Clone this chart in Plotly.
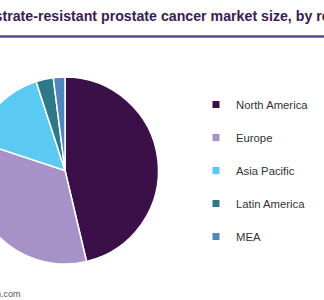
import plotly.graph_objects as go

regions = ["North America", "Europe", "Asia Pacific", "Latin America", "MEA"]
shares = [46.3, 33.8, 14.9, 3.0, 2.0]
colors = ["#3b1048", "#a692c6", "#5bcaf2", "#2f7888", "#4e87c0"]
title_text = "Castrate-resistant prostate cancer market size, by region"
source_text = "Source: www.grandviewresearch.com"

SHIFT = 40
W = 324 + SHIFT
H = 300

fig = go.Figure()
fig.add_trace(go.Pie(
    labels=regions, values=shares, sort=False, direction="clockwise", rotation=0,
    marker=dict(colors=colors, line=dict(color="white", width=1.5)),
    textinfo="none", showlegend=False,
    domain=dict(x=[11.5 / W, 198.5 / W], y=[36 / H, 223 / H]),
))
for name, c in zip(regions, colors):
    fig.add_trace(go.Scatter(
        x=[None], y=[None], mode="markers", name=name, legendgroup=name,
        marker=dict(symbol="square", size=7, color=c),
    ))

fig.add_shape(type="line", xref="paper", yref="paper", x0=0, x1=1,
              y0=1 - 36.5 / H, y1=1 - 36.5 / H,
              line=dict(color="#564a9e", width=2.5))

fig.add_annotation(text=source_text, xref="paper", yref="paper",
                   x=(23 + SHIFT) / W, y=6 / H, xanchor="right", yanchor="middle",
                   showarrow=False, font=dict(size=9, color="#555555",
                                              family="Arial, Liberation Sans"))

fig.update_layout(
    width=W, height=H, margin=dict(l=0, r=0, t=0, b=0, autoexpand=False),
    paper_bgcolor="white", plot_bgcolor="white",
    title=dict(text="<b>" + title_text + "</b>", x=(168 + SHIFT) / W, xanchor="center",
               xref="paper", y=1 - 16 / H, yref="container", yanchor="middle",
               font=dict(size=14.2, color="#3c1c50", family="Arial, Liberation Sans")),
    xaxis=dict(visible=False), yaxis=dict(visible=False),
    legend=dict(x=(196 + SHIFT) / W, xanchor="left", y=1 - 90 / H, yanchor="top",
                tracegroupgap=14, itemwidth=30,
                font=dict(size=11.3, color="#333333", family="Arial, Liberation Sans"),
                bgcolor="rgba(0,0,0,0)"),
    showlegend=True,
)

post = ("var g=document.getElementById('{plot_id}');"
        "g.style.marginLeft='-%dpx';"
        "document.body.style.margin='0';document.body.style.overflow='hidden';" % SHIFT)
fig.write_html("out.html", post_script=post)
